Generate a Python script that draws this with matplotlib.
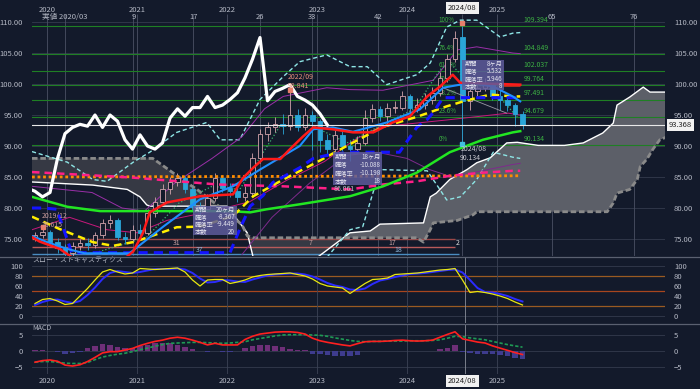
import matplotlib
matplotlib.use("Agg")
import matplotlib.pyplot as plt
import matplotlib.transforms as mtrans
from matplotlib.lines import Line2D
from matplotlib.patches import Rectangle
import numpy as np

plt.rcParams['font.family'] = ['Noto Sans CJK JP', 'DejaVu Sans']

BG = "#131a2b"
TXT = "#b4b8c4"
GRID = "#343b4d"

# ---- 月足データ (月番号: 0 = 2020/01) ----
months = list(range(-2, 64))
opens = [75.0, 75.6, 76.2, 74.5, 73.5, 72.8, 73.8, 74.3, 74.0, 75.6, 77.6, 78.1,
         75.4, 75.0, 76.5, 76.0, 79.2, 81.0, 83.0, 84.2, 84.8, 83.0, 80.2, 79.8,
         81.6, 84.8, 83.2, 82.7, 81.8, 82.5, 88.0, 92.0, 93.0, 93.5, 93.2, 95.0,
         93.0, 95.0, 94.0, 91.0, 89.5, 91.8, 90.0, 89.5, 90.5, 94.5, 96.0, 94.8,
         96.2, 96.2, 98.0, 96.2, 96.6, 97.5, 98.6, 101.0, 104.0, 107.6, 97.3, 98.8,
         99.3, 99.9, 98.0, 97.4, 96.6, 95.2]
highs = [76.2, 76.615, 76.4, 75.2, 74.2, 74.5, 75.0, 75.2, 76.2, 78.3, 78.8, 78.4,
         76.2, 77.2, 77.5, 79.8, 81.8, 83.8, 85.0, 85.6, 85.2, 83.4, 81.0, 82.2,
         85.6, 85.4, 84.0, 83.6, 83.5, 88.8, 92.8, 93.8, 94.6, 95.2, 98.841, 96.0,
         96.2, 95.6, 94.4, 92.0, 92.6, 92.4, 90.8, 91.6, 95.8, 96.8, 96.4, 96.9,
         97.2, 98.8, 98.4, 97.8, 98.6, 99.6, 102.0, 104.8, 108.6, 109.394, 99.6, 100.5,
         101.0, 100.2, 99.0, 98.0, 97.0, 95.6]
lows = [74.6, 75.2, 74.0, 72.8, 70.5, 72.0, 73.2, 73.3, 73.6, 75.2, 76.8, 74.8,
        74.2, 74.6, 75.2, 75.6, 78.6, 80.5, 82.3, 83.5, 82.4, 79.6, 79.0, 79.3,
        81.2, 82.6, 81.8, 80.9, 81.2, 82.0, 87.2, 90.8, 92.2, 92.0, 92.6, 92.5,
        92.6, 89.4, 89.0, 88.4, 89.0, 89.2, 87.6, 88.8, 90.2, 93.8, 94.0, 93.6,
        95.4, 95.8, 95.2, 95.5, 96.0, 96.8, 98.0, 100.4, 103.5, 90.134, 95.8, 98.0,
        98.8, 97.4, 95.8, 95.6, 93.2, 92.8]
closes = [75.6, 76.2, 74.5, 73.5, 72.8, 73.8, 74.3, 74.0, 75.6, 77.6, 78.1, 75.4,
          75.0, 76.5, 76.0, 79.2, 81.0, 83.0, 84.2, 84.8, 83.0, 80.2, 79.8, 81.6,
          84.8, 83.2, 82.7, 81.8, 82.5, 88.0, 92.0, 93.0, 93.5, 93.2, 95.0, 93.0,
          95.0, 94.0, 91.0, 89.5, 91.8, 90.0, 89.5, 90.5, 94.5, 96.0, 94.8, 96.2,
          96.2, 98.0, 96.2, 96.6, 97.5, 98.6, 101.0, 104.0, 107.5, 97.3, 98.8, 99.3,
          99.9, 98.0, 97.4, 96.6, 95.2, 93.368]

# ---- 各ライン (位置 u: 月番号, 値) ----
red_u = [-2, -1, 1.7, 4, 10, 11.5, 12.8, 13.7, 16, 20.4, 24.8, 26.1, 27.5, 28.8, 31.1, 32.4, 34.1,
         35.5, 38.1, 40.8, 43.5, 46.1, 48.4, 50.7, 52.4, 54.1, 55.1, 63.1]
red_v = [75.3, 74.6, 73.4, 71.5, 71.5, 73.0, 76.0, 79.3, 80.9, 81.9, 82.2, 84.8, 86.5, 87.9, 87.9, 89.5, 91.5,
         93.0, 92.7, 92.2, 92.2, 93.8, 94.8, 98.0, 99.6, 101.5, 100.2, 99.9]
lblue_u = [-2, 0, 2.7, 5, 11, 15.5, 20.4, 24.8, 28.4, 33.7, 35.5, 38.1, 40.8, 45.3, 49.7, 52.8, 55.1,
           56.4, 59.5, 62.1, 63.1]
lblue_v = [75.5, 74.5, 73.4, 72.7, 72.7, 77.0, 81.4, 83.5, 86.2, 90.0, 92.7, 93.0, 92.3, 93.8, 95.9, 99.4, 99.9,
           100.2, 99.6, 98.0, 97.2]
bdash_u = [-2, -0.5, 1.3, 3.3, 24.4, 25.7, 27.1, 28.8, 30.1, 33.7, 35.5, 37.7, 40.4, 47.0, 49.3, 50.7, 51.5, 52.8, 63.1]
bdash_v = [80.0, 80.0, 79.8, 72.8, 72.8, 76.6, 80.3, 82.0, 84.1, 86.5, 88.0, 88.6, 89.0, 89.0, 93.0, 94.3, 95.4, 97.8, 97.8]
yel_u = [-2, 1.7, 6.1, 8.8, 11.5, 12.8, 17.3, 20.4, 24.8, 27.5, 31.5, 36.0, 40.4, 44.8, 49.3, 53.3, 55.5, 59.1, 62.1, 63.1]
yel_v = [78.6, 76.6, 74.5, 73.9, 74.5, 75.0, 76.9, 77.0, 78.7, 81.9, 84.6, 87.4, 90.3, 93.1, 94.7, 96.4, 97.2, 98.3, 98.0, 98.0]
grn_u = [-2, 2.7, 7.1, 24.4, 27.1, 29.3, 33.7, 40.4, 44.8, 49.3, 53.7, 58.1, 62.1, 63.1]
grn_v = [81.8, 80.2, 79.5, 79.5, 79.3, 79.8, 80.6, 81.9, 83.5, 85.7, 89.0, 91.0, 92.2, 92.4]
pink_u = [-2, 7.1, 11.5, 22.7, 31.5, 40.4, 44.8, 49.3, 53.7, 58.1, 62.1, 63.1]
pink_v = [85.8, 85.2, 84.9, 83.8, 83.5, 83.0, 83.8, 84.3, 85.2, 85.7, 86.0, 86.0]
orng_u = [-2, 63.1]
orng_v = [85.0, 85.2]
cyu_u = [-2, 2.7, 6.1, 8.0, 11.5, 13.7, 17.3, 21.3, 23.1, 25.7, 28.4, 31.5, 33.7, 37.3, 40.4, 42.7, 45.3,
         49.3, 51.1, 53.3, 55.1, 57.3, 60.4, 62.1, 63.1]
cyu_v = [89.1, 87.4, 84.6, 84.3, 87.4, 89.0, 92.2, 93.8, 91.0, 91.0, 97.5, 101.2, 103.6, 104.7, 102.8, 102.8, 99.9,
         101.5, 103.4, 109.2, 110.3, 110.3, 107.6, 108.2, 108.3]
cyl_u = [36.0, 37.3, 40.4, 42.1, 44.4, 50.7, 52.1, 53.3, 55.1, 57.3, 59.5, 62.1, 63.1]
cyl_v = [70.5, 72.0, 76.5, 77.0, 86.2, 86.0, 83.5, 81.3, 81.8, 84.6, 89.0, 88.2, 88.0]
mag1_u = [-2, 6.0, 10.0, 13.0, 17.0, 22.0, 26.0, 29.0, 31.5, 37.3, 40.4, 44.8, 51.5, 54.7, 57.3, 62.1, 63.1]
mag1_v = [83.5, 82.5, 80.0, 79.5, 84.0, 88.0, 91.5, 96.0, 98.0, 99.4, 99.1, 99.0, 100.6, 105.5, 106.0, 105.0, 104.9]
mag2_u = [-2, 3, 8, 12, 16, 22, 27, 32, 37, 41, 44.4, 53.3, 61.5, 63.1]
mag2_v = [76.5, 78.5, 76.5, 76.0, 78.0, 79.5, 81.0, 84.5, 87.5, 91.0, 93.1, 94.2, 95.3, 95.0]
mag3_u = [26, 30, 35, 40, 44, 48, 51, 54, 58, 62, 63.1]
mag3_v = [72.5, 78.5, 84.0, 88.5, 89.0, 88.0, 86.2, 85.0, 86.0, 87.0, 87.2]
gdot_u = [6.5, 13.3, 17.6, 22.0, 25.7, 31.0, 35.0, 40.0, 44.0, 49.0, 52.4, 53.7, 56.0, 59.5, 62.7]
gdot_v = [72.8, 75.3, 80.8, 83.5, 83.0, 93.1, 93.5, 90.5, 93.0, 96.0, 102.3, 103.4, 100.5, 99.0, 94.7]

# 雲 (先行スパンA / B)
sa_u = [-2, 6.1, 10.7, 12.4, 13.3, 13.7, 24.0, 26.7, 27.5, 29.0, 34.0, 36.0, 40.4, 43.1, 44.4, 50.2, 51.1,
        51.9, 53.7, 56.0, 57.3, 59.1, 61.3, 62.7, 65.5, 69.0, 71.5, 74.1, 75.5, 76.0, 77.7, 79.5, 80.4, 82.7]
sa_v = [84.2, 83.7, 83.0, 81.8, 80.5, 80.3, 80.3, 76.0, 72.0, 69.5, 69.5, 72.0, 76.0, 76.3, 77.4, 77.6, 81.8,
        82.4, 84.6, 86.2, 87.3, 88.1, 90.5, 90.6, 90.1, 90.1, 90.5, 92.1, 93.7, 96.6, 97.9, 99.5, 98.7, 98.7]
sb_u = [-2, 14.1, 15.5, 17.0, 18.5, 20.0, 21.5, 23.0, 24.5, 26.0, 26.7, 27.5, 49.3, 50.2, 51.1, 51.5, 54.7,
        56.8, 57.3, 74.7, 75.5, 76.0, 77.7, 78.7, 79.1, 80.0, 80.8, 81.7, 82.7]
sb_v = [88.0, 88.0, 86.8, 85.5, 84.2, 83.0, 81.6, 80.2, 78.8, 77.3, 75.5, 75.2, 75.2, 74.5, 76.5, 77.6, 78.0,
        78.9, 79.4, 79.4, 80.8, 82.4, 83.0, 84.6, 86.7, 87.9, 89.5, 91.0, 91.5]

fib_levels = [109.394, 104.849, 102.037, 99.764, 97.491, 94.679, 90.134]
fib_pct = ["100%", "76.4%", "61.8%", "50%", "38.2%", "23.6%", "0%"]

# スロー・ストキャスティクス
stoch_k = [25, 33, 35, 30, 23, 25, 40, 55, 72, 88, 93, 88,
           84, 86, 95, 94, 93, 94, 95, 96, 88, 72, 60, 72,
           73, 73, 65, 68, 72, 78, 81, 83, 84, 85, 86, 83,
           80, 74, 65, 60, 58, 56, 45, 55, 65, 73, 74, 76,
           83, 84, 85, 86, 88, 90, 92, 93, 95, 72, 47, 49,
           47, 44, 40, 35, 28, 22]
stoch_d = [22, 28, 32, 33, 29, 26, 30, 42, 57, 74, 86, 90,
           88, 86, 88, 91, 94, 94, 94, 95, 93, 86, 75, 67,
           68, 72, 71, 69, 68, 73, 77, 81, 83, 84, 85, 85,
           83, 79, 73, 66, 61, 58, 53, 52, 55, 64, 71, 74,
           78, 81, 84, 85, 86, 88, 90, 92, 93, 87, 72, 56,
           48, 47, 44, 40, 34, 29]

# MACD
macd_line = [-3.5, -3.0, -2.8, -3.2, -4.4, -4.7, -4.3, -3.3, -2.0, -0.6, -0.2, -0.2,
             0.3, 0.8, 1.7, 2.4, 3.0, 3.4, 4.0, 4.3, 4.0, 3.4, 2.7, 1.9,
             2.4, 1.9, 1.9, 1.9, 3.6, 4.6, 5.3, 5.6, 5.9, 6.0, 6.0, 5.8,
             5.3, 4.0, 3.2, 2.7, 2.3, 1.9, 1.6, 2.3, 2.9, 3.0, 3.0, 3.1,
             3.3, 3.4, 3.2, 3.1, 3.2, 3.4, 4.3, 5.2, 6.0, 3.8, 3.3, 2.8,
             2.5, 1.6, 0.9, 0.2, -0.5, -1.1]
macd_sig = [-3.5, -3.3, -3.3, -3.5, -3.8, -3.9, -3.9, -3.6, -2.7, -1.9, -1.4, -1.0,
            -0.7, -0.2, 0.4, 0.9, 1.5, 2.0, 2.4, 2.5, 2.6, 2.7, 2.7, 2.6,
            2.5, 2.4, 2.5, 2.7, 2.9, 3.5, 3.9, 4.3, 4.7, 5.0, 5.1, 5.1,
            5.1, 5.0, 4.9, 4.6, 4.1, 3.7, 3.3, 3.0, 2.9, 3.0, 3.0, 3.1,
            3.1, 3.1, 3.2, 3.2, 3.2, 3.3, 3.5, 4.0, 4.6, 4.5, 4.1, 3.8,
            3.5, 3.0, 2.5, 2.0, 1.6, 1.2]
macd_hist = [0.2, 0.3, 0.0, -0.3, -1.0, -0.7, -0.3, 0.8, 1.6, 2.2, 1.9, 1.4,
             1.0, 1.0, 1.7, 1.9, 2.4, 2.6, 2.4, 1.9, 1.4, 0.5, 0.1, -0.3,
             -0.1, -0.2, -0.3, 0.1, 1.0, 1.6, 1.9, 1.9, 1.7, 1.4, 0.6, 0.4,
             0.2, -1.0, -1.0, -1.2, -1.6, -1.6, -1.6, -1.2, 0.0, 0.0, 0.0, 0.1,
             0.1, 0.1, 0.0, 0.0, 0.0, 0.1, 0.5, 1.0, 1.9, -0.2, -0.5, -0.8,
             -1.0, -1.0, -1.2, -1.5, -2.1, -2.5]

years = ["2020", "2021", "2022", "2023", "2024", "2025"]
year_u = [0, 12, 24, 36, 48, 60]
count_labels = ["実値 2020/03", "9", "17", "26", "33", "42", "65", "76"]
count_u = [2.4, 11.5, 19.5, 28.4, 35.3, 44.1, 67.3, 78.3]
last_price = 93.368

bar_u = [m + 0.4 for m in months]

# ---- レイアウト ----
W, H = 700, 389
fig = plt.figure(figsize=(7, 3.89), dpi=100, facecolor=BG)


def axpos(top, bottom, left=32, right=665):
    return [left / W, 1 - bottom / H, (right - left) / W, (bottom - top) / H]


ax1 = fig.add_axes(axpos(2, 256))
ax2 = fig.add_axes(axpos(257, 323), sharex=ax1)
ax3 = fig.add_axes(axpos(324, 374), sharex=ax1)
for ax in (ax1, ax2, ax3):
    ax.set_facecolor(BG)
    for s in ax.spines.values():
        s.set_visible(False)
    ax.tick_params(axis="y", left=False, right=False, labelleft=True, labelright=True,
                   labelsize=5.5, labelcolor=TXT, pad=3)
    ax.tick_params(axis="x", bottom=False, labelbottom=False)
ax1.set_xlim(-2, 82.4)

# ---- メインチャート ----
ax1.set_ylim(72.26, 113.23)
ax1.set_yticks([75, 80, 85, 90, 95, 100, 105, 110])
ax1.set_yticklabels([f"{v:.2f}" for v in [75, 80, 85, 90, 95, 100, 105, 110]])
for v in [75, 80, 85, 90, 95, 100, 105, 110]:
    ax1.axhline(v, color=GRID, lw=0.6, zorder=0.5)
for u in year_u + count_u + [55.4]:
    ax1.vlines(u, 72.26, 111.3, color="#4a5064", lw=0.6, zorder=0.6)

# 雲
g = np.linspace(-2, 82.7, 900)
a = np.interp(g, sa_u, sa_v)
b = np.interp(g, sb_u, sb_v)
ax1.fill_between(g, a, b, where=a >= b, color="#5c5f68", interpolate=True, zorder=1, lw=0)
ax1.fill_between(g, a, b, where=a < b, color="#363944", interpolate=True, zorder=1, lw=0)
ax1.plot(sa_u, sa_v, color="white", lw=1.0, zorder=2)
ax1.plot(sb_u, sb_v, color="#8a8a8a", lw=2.0, dashes=(2, 1), zorder=2)

# フィボナッチ
for lv, pc in zip(fib_levels, fib_pct):
    ax1.axhline(lv, color="#1f7f24", lw=0.8, zorder=1.5)
    ax1.text(63.5, lv + 0.35, f"{lv:.3f}", color="#3cb043", fontsize=5, va="bottom", zorder=7)
    ax1.text(52.2, lv + 0.35, pc, color="#3cb043", fontsize=4.5, va="bottom", zorder=2.5)
ax1.hlines(99.764, 60.8, 63.1, color="#c0301e", lw=2.0, zorder=4)

# 下部の期間ライン
ax1.hlines(75.0, -2, 54.4, color="#9c4848", lw=1.0, zorder=1.6)
ax1.hlines(73.75, -2, 54.4, color="#b85a5a", lw=1.0, zorder=1.6)
ax1.hlines(72.55, -2, 55.0, color="#4a8cc0", lw=1.0, zorder=1.6)
for u, v, t, c in [(17.3, 74.4, "31", "#c8a0a0"), (20.4, 73.15, "37", "#8ab4d8"),
                   (35.1, 74.4, "7", "#c8a0a0"), (46.1, 74.4, "17", "#c8a0a0"),
                   (46.8, 73.15, "18", "#8ab4d8"), (54.7, 74.4, "2", "#e0e0e0")]:
    ax1.text(u, v, t, color=c, fontsize=5, ha="center", va="center", zorder=3)

# ボリンジャー等の細線
ax1.plot(cyu_u, cyu_v, color="#8ee6e6", lw=1.0, dashes=(3, 2), zorder=2.6)
ax1.plot(cyl_u, cyl_v, color="#8ee6e6", lw=1.0, dashes=(3, 2), zorder=2.6)
ax1.plot(mag1_u, mag1_v, color="#9a2fa8", lw=0.7, zorder=2.6)
ax1.plot(mag2_u, mag2_v, color="#c8187c", lw=0.7, zorder=2.6)
ax1.plot(mag3_u, mag3_v, color="#7e2a8c", lw=0.7, zorder=2.6)
ax1.plot(gdot_u, gdot_v, color="#3cb371", lw=0.9, ls=":", zorder=2.6)

# ローソク足
up = [c >= o for o, c in zip(opens, closes)]
UPC, DNC = "#d2a4ac", "#2aa5d8"
wick_c = [UPC if u else DNC for u in up]
ax1.vlines(bar_u, lows, highs, colors=wick_c, lw=0.6, zorder=3)
body_h = [max(abs(c - o), 0.15) for o, c in zip(opens, closes)]
body_b = [min(o, c) for o, c in zip(opens, closes)]
ax1.bar(bar_u, body_h, bottom=body_b, width=0.62,
        color=[BG if u else DNC for u in up], edgecolor=wick_c, lw=0.6, zorder=3.2)

# 移動平均系
ax1.plot(orng_u, orng_v, color="#ff8c00", lw=2.0, dashes=(1, 1), zorder=3.5)
ax1.plot(pink_u, pink_v, color="#ff1f87", lw=1.8, dashes=(3, 2), zorder=3.6)
ax1.plot(grn_u, grn_v, color="#22e622", lw=1.8, zorder=3.7)
ax1.plot(yel_u, yel_v, color="#ffee00", lw=1.8, dashes=(3, 2), zorder=3.8)
ax1.plot(bdash_u, bdash_v, color="#1414ff", lw=2.2, dashes=(3, 2), zorder=3.8)
ax1.plot(lblue_u, lblue_v, color="#1e8fff", lw=1.5, zorder=3.9)
ax1.plot(red_u, red_v, color="#ff1a1a", lw=1.8, zorder=4)

# 遅行スパン
ax1.plot([u - 26 for u in bar_u], closes, color="white", lw=2.3, zorder=4.5)

# 現在値
ax1.axhline(last_price, color="#e8e8e8", lw=0.8, zorder=4.2)
trans = mtrans.blended_transform_factory(ax1.transAxes, ax1.transData)
ax1.text(1.006, last_price, f"{last_price:.3f}", transform=trans, fontsize=5.5, color="#222222",
         va="center", ha="left", zorder=8,
         bbox=dict(boxstyle="square,pad=0.25", fc="#f2f2f2", ec="none"))

# 高値安値マーカー
ax1.plot([-0.6, 32.4, 55.4], [76.9, 99.0, 109.9], ls="none", marker="s", ms=2.5, color="#e8806c", zorder=5)
ax1.plot([55.4], [90.3], ls="none", marker="s", ms=2.5, color="#40c0e0", zorder=5)
ax1.text(-0.7, 78.0, "2019/12\n76.615", color="#c89a9a", fontsize=5, va="center", linespacing=1.1, zorder=5)
ax1.text(32.1, 100.4, "2022/09\n98.841", color="#e8907c", fontsize=5, va="center", linespacing=1.1, zorder=5)
ax1.text(55.1, 88.8, "2024/08\n90.134", color="#c8c8d0", fontsize=5, va="center", linespacing=1.1, zorder=5)

# トレンドライン
ax1.plot([52.8, 61.3], [99.4, 95.3], color="#9a9aa6", lw=0.6, zorder=3.3)

# 騰落ボックス
boxes = [
    (19.5, 25.3, 75.6, 80.3, [("期間", "20ヶ月"), ("騰落", "-8.367"), ("騰落率", "-9.449"), ("本数", "20")]),
    (38.1, 44.7, 83.7, 89.0, [("期間", "18ヶ月"), ("騰落", "-10.088"), ("騰落率", "-10.198"), ("本数", "18")]),
    (55.4, 61.0, 99.0, 103.9, [("期間", "8ヶ月"), ("騰落", "5.532"), ("騰落率", "5.946"), ("本数", "8")]),
]
for x0, x1, y0, y1, rows in boxes:
    ax1.add_patch(Rectangle((x0, y0), x1 - x0, y1 - y0, fc="#5e5c9c", ec="none", alpha=0.85, zorder=6))
    step = (y1 - y0) / 4
    for i, (k, v) in enumerate(rows):
        yy = y1 - step * (i + 0.5)
        ax1.text(x0 + 0.25, yy, k, color="#e6e6f0", fontsize=4.5, va="center", ha="left", zorder=6.5)
        ax1.text(x1 - 0.25, yy, v, color="#e6e6f0", fontsize=4.5, va="center", ha="right", zorder=6.5)
ax1.text(38.2, 83.1, "86.061", color="#c0c0c8", fontsize=5, va="center", zorder=5)

# 上部ラベル
for u, t in zip(year_u, years):
    ax1.text(u, 112.0, t, color=TXT, fontsize=5.5, ha="center", va="center")
for u, t in zip(count_u, count_labels):
    ax1.text(u, 110.85, t, color=TXT, fontsize=5.5, ha="center", va="center")
ax1.text(55.4, 112.2, "2024/08", color="#222222", fontsize=5.5, ha="center", va="center", zorder=8,
         bbox=dict(boxstyle="square,pad=0.25", fc="#f0f0f0", ec="none"))

# ---- スロー・ストキャスティクス ----
ax2.set_ylim(-14, 118)
ax2.set_yticks([0, 20, 40, 60, 80, 100])
for v in [0, 100]:
    ax2.axhline(v, color=GRID, lw=0.6)
ax2.axhline(80, color="#9a5a22", lw=0.9)
ax2.axhline(50, color="#a8461e", lw=0.9)
ax2.axhline(20, color="#9a5a22", lw=0.9)
for u in year_u:
    ax2.axvline(u, color="#3c4356", lw=0.6)
ax2.axvline(55.8, color="#8a8e9a", lw=0.6)
ax2.plot(bar_u, stoch_d, color="#2b2bff", lw=1.4)
ax2.plot(bar_u, stoch_k, color="#e8e810", lw=0.9)
ax2.text(0.0, 112, "スロー・ストキャスティクス", color=TXT, fontsize=5, va="center", ha="left",
         transform=mtrans.blended_transform_factory(ax2.transAxes, ax2.transData))

# ---- MACD ----
ax3.set_ylim(-7.19, 8.44)
ax3.set_yticks([-5, 0, 5])
for v in [-5, 0, 5]:
    ax3.axhline(v, color=GRID, lw=0.6)
for u in year_u:
    ax3.axvline(u, color="#3c4356", lw=0.6)
ax3.axvline(55.8, color="#8a8e9a", lw=0.6)
ax3.bar(bar_u, macd_hist, width=0.75, color=["#6e2f78" if h >= 0 else "#3e3c8e" for h in macd_hist], zorder=2)
ax3.plot(bar_u, macd_sig, color="#1f9a55", lw=1.2, dashes=(2, 1.2), zorder=3)
ax3.plot(bar_u, macd_line, color="#ff2020", lw=1.2, zorder=4)
ax3.text(0.0, 7.2, "MACD", color=TXT, fontsize=5, va="center", ha="left",
         transform=mtrans.blended_transform_factory(ax3.transAxes, ax3.transData))
for u, t in zip(year_u, years):
    ax3.text(u, -9.4, t, color=TXT, fontsize=5.5, ha="center", va="center")
ax3.text(55.4, -9.4, "2024/08", color="#222222", fontsize=5.5, ha="center", va="center", zorder=8,
         bbox=dict(boxstyle="square,pad=0.25", fc="#f0f0f0", ec="none"))

# パネル区切り線
for yp in (256.5, 323.5):
    fig.add_artist(Line2D([0, 1], [1 - yp / H] * 2, transform=fig.transFigure, color="#5a6070", lw=0.9))

fig.savefig("out.png", dpi=100, facecolor=BG)
print("saved out.png")
